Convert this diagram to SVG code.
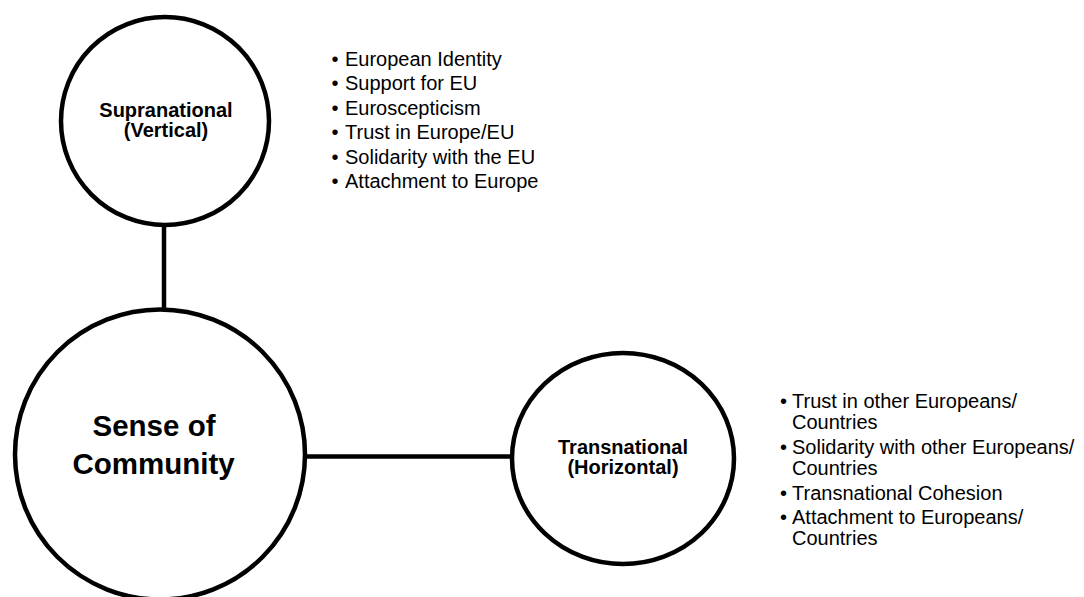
<svg xmlns="http://www.w3.org/2000/svg" width="1084" height="597" viewBox="0 0 1084 597">
  <style>
    .node { fill: #ffffff; stroke: #000000; stroke-width: 4.5; }
    .conn { stroke: #000000; stroke-width: 4.5; fill: none; }
    .lbl { font-family: "Liberation Sans", Arial, sans-serif; font-weight: bold; fill: #000000; text-anchor: middle; }
    .item { font-family: "Liberation Sans", Arial, sans-serif; font-size: 20px; fill: #000000; }
  </style>
  <rect width="1084" height="597" fill="#ffffff"/>
  <g id="connectors">
    <line class="conn" x1="164" y1="225" x2="164" y2="311"/>
    <line class="conn" x1="303" y1="456.5" x2="514" y2="456.5"/>
  </g>
  <g id="supranational">
    <circle class="node" cx="165" cy="121" r="104"/>
    <text class="lbl" font-size="20" x="166" y="117">Supranational</text>
    <text class="lbl" font-size="20" x="166" y="137">(Vertical)</text>
  </g>
  <g id="sense-of-community">
    <circle class="node" cx="160" cy="454.5" r="145"/>
    <text class="lbl" font-size="29.5" x="154" y="436">Sense of</text>
    <text class="lbl" font-size="29.5" x="153.5" y="474">Community</text>
  </g>
  <g id="transnational">
    <ellipse class="node" cx="623" cy="458.5" rx="111" ry="105.5"/>
    <text class="lbl" font-size="20" x="623" y="454">Transnational</text>
    <text class="lbl" font-size="20" x="623" y="474">(Horizontal)</text>
  </g>
  <g id="supranational-items">
    <text class="item" x="331.5" y="66">•</text><text class="item" x="345" y="66">European Identity</text>
    <text class="item" x="331.5" y="90.4">•</text><text class="item" x="345" y="90.4">Support for EU</text>
    <text class="item" x="331.5" y="114.8">•</text><text class="item" x="345" y="114.8">Euroscepticism</text>
    <text class="item" x="331.5" y="139.2">•</text><text class="item" x="345" y="139.2">Trust in Europe/EU</text>
    <text class="item" x="331.5" y="163.6">•</text><text class="item" x="345" y="163.6">Solidarity with the EU</text>
    <text class="item" x="331.5" y="188">•</text><text class="item" x="345" y="188">Attachment to Europe</text>
  </g>
  <g id="transnational-items">
    <text class="item" x="780" y="408">•</text><text class="item" x="792" y="408">Trust in other Europeans/</text>
    <text class="item" x="792" y="429">Countries</text>
    <text class="item" x="780" y="454">•</text><text class="item" x="792" y="454">Solidarity with other Europeans/</text>
    <text class="item" x="792" y="475">Countries</text>
    <text class="item" x="780" y="500">•</text><text class="item" x="792" y="500">Transnational Cohesion</text>
    <text class="item" x="780" y="524">•</text><text class="item" x="792" y="524">Attachment to Europeans/</text>
    <text class="item" x="792" y="545">Countries</text>
  </g>
</svg>
